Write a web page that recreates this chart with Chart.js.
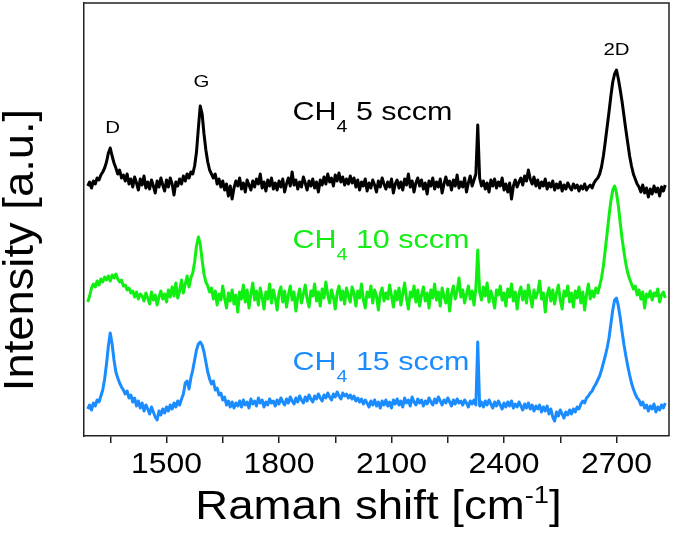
<!DOCTYPE html>
<html>
<head>
<meta charset="utf-8">
<script src="https://cdn.jsdelivr.net/npm/chart.js@4.4.0/dist/chart.umd.min.js"></script>
<style>
  body { margin: 0; background: #fff; }
  #wrap { width: 675px; height: 536px; }
</style>
</head>
<body>
<div id="wrap"><canvas id="myChart"></canvas></div>
<script>
// Raman shift grid, 5 cm-1 per point, 1290..2830
const shift = [];
for (let s = 1290; s <= 2830; s += 5) shift.push(s);

// intensities (arb. units, offset stacks as in the figure)
const ch4_5 = [
  250,254,248,255,252,258,256,261,264,268,274,283,288,280,273,268,262,266,258,261,
  255,262,252,257,249,259,253,246,257,251,260,248,254,247,256,250,243,255,249,258,
  251,245,256,249,258,252,241,254,250,257,252,260,255,262,258,264,262,270,284,308,
  330,322,302,286,274,266,262,258,262,252,257,249,255,246,252,240,250,237,248,255,
  250,258,247,253,244,256,251,246,255,249,257,252,262,248,254,245,256,250,258,247,
  253,246,255,249,257,244,252,258,250,264,251,256,247,254,249,259,253,246,255,250,
  257,248,254,244,256,251,259,252,262,254,258,250,261,255,263,254,259,251,257,252,
  260,253,258,249,256,246,254,250,257,245,253,248,256,251,244,255,249,258,252,247,
  254,249,257,243,252,256,248,254,246,257,251,262,249,255,244,253,258,250,256,247,
  253,242,255,250,258,247,254,249,257,243,252,259,251,255,246,256,250,261,248,254,
  249,258,244,253,260,250,256,262,311,258,250,255,247,253,244,256,250,257,248,254,
  250,258,246,252,244,253,237,250,256,249,254,258,251,260,255,266,257,252,259,250,
  256,248,254,250,257,247,253,249,255,246,252,248,254,245,251,247,253,249,246,252,
  248,251,245,250,247,252,246,249,251,248,253,256,258,262,269,280,294,309,324,340,
  354,362,366,357,346,334,320,306,293,280,270,262,257,252,249,244,251,243,248,239,
  247,242,250,244,248,240,249,245,251
];
const ch4_10 = [
  134,140,148,152,149,155,151,157,154,159,156,160,155,161,158,162,157,154,156,150,
  151,146,148,143,145,139,144,137,142,140,135,143,138,132,144,136,141,131,139,145,
  137,142,134,146,139,149,140,153,138,145,156,143,152,160,149,158,163,174,190,199,
  192,176,162,154,150,144,148,137,145,131,142,136,150,138,128,143,135,146,132,141,
  124,144,137,151,134,146,128,142,153,136,145,131,148,139,127,144,137,152,133,146,
  138,126,143,149,134,145,129,141,150,136,144,125,139,147,133,142,151,137,129,145,
  140,152,135,144,130,147,138,154,141,133,146,139,127,143,150,136,145,132,148,140,
  134,149,143,130,145,138,152,136,128,144,139,150,133,146,140,126,142,148,135,143,
  137,151,140,129,145,136,148,131,142,153,138,127,144,139,150,134,146,130,141,149,
  135,143,128,146,138,152,136,144,130,148,140,133,147,125,142,150,137,145,158,139,
  146,133,142,150,137,145,131,148,186,144,136,149,140,153,134,145,138,128,146,141,
  150,136,143,130,147,139,152,135,144,127,142,149,136,145,133,151,140,129,146,138,
  144,155,137,143,124,141,148,135,146,132,143,151,136,127,145,140,150,134,143,129,
  145,138,149,133,144,126,141,152,137,145,139,148,143,150,158,170,186,203,220,235,
  246,250,243,230,213,197,184,172,163,157,152,147,150,141,146,137,144,128,142,139,
  145,136,143,140,147,134,141,144,138
];
const ch4_15 = [
  27,31,26,33,30,36,34,40,46,57,72,90,103,92,76,64,58,53,49,46,
  42,45,38,41,34,38,30,35,28,33,25,31,27,22,29,24,19,16,25,21,
  27,23,29,25,31,27,33,29,35,31,37,42,53,55,47,58,66,76,86,92,
  94,91,84,74,64,57,52,55,46,48,41,43,36,39,31,35,29,34,28,33,
  30,35,29,36,31,34,28,37,32,35,30,38,33,36,29,34,31,37,33,35,
  30,36,32,38,34,31,37,33,39,35,32,38,34,40,36,33,39,35,41,37,
  34,40,37,42,38,35,41,38,43,39,36,42,39,44,40,37,43,40,42,38,
  41,37,40,35,38,34,37,32,36,33,29,35,31,36,30,34,28,35,31,36,
  30,34,28,36,32,37,31,35,29,38,33,36,30,39,34,31,37,33,36,30,
  35,32,38,34,31,37,33,39,35,31,36,33,38,34,30,36,32,37,33,35,
  31,36,33,29,35,32,36,31,94,30,34,29,35,31,36,32,28,34,30,35,
  31,27,33,29,34,30,35,28,32,29,34,30,26,32,28,33,27,31,25,30,
  27,31,24,29,25,30,22,27,19,15,24,20,26,22,18,24,21,26,22,27,
  24,29,27,32,35,33,38,40,43,45,49,52,56,60,66,73,80,88,98,112,
  126,136,138,130,118,104,91,80,70,61,53,47,42,38,36,31,34,28,31,25,
  30,27,32,24,29,26,31,28,33
];

const xMin = 1280, xMax = 2840;
const majorTicks = [1500, 1800, 2100, 2400, 2700];
const minorTicks = [1350, 1650, 1950, 2250, 2550];

const peakLabels = [
  { text: 'D', x: 1356, y: 303 },
  { text: 'G', x: 1593, y: 349 },
  { text: '2D', x: 2700, y: 381 }
];
const sampleLabels = [
  { rest: ' 5 sccm', x: 1836, y: 316, color: '#000000' },
  { rest: ' 10 sccm', x: 1836, y: 188, color: '#11ee11' },
  { rest: ' 15 sccm', x: 1836, y: 66, color: '#1a8cff' }
];

const FONT = "'Liberation Sans', Arial, sans-serif";

function stretchText(ctx, text, x, y, size, sx, align) {
  ctx.save();
  ctx.font = size + 'px ' + FONT;
  const w = ctx.measureText(text).width * sx;
  let x0 = x;
  if (align === 'center') x0 = x - w / 2;
  ctx.translate(x0, y);
  ctx.scale(sx, 1);
  ctx.textAlign = 'left';
  ctx.textBaseline = 'alphabetic';
  ctx.fillText(text, 0, 0);
  ctx.restore();
  return w;
}

const decorPlugin = {
  id: 'decor',
  afterDraw(chart) {
    const ctx = chart.ctx;
    const a = chart.chartArea;
    const xs = chart.scales.x, ys = chart.scales.y;

    // top and right frame
    ctx.save();
    ctx.strokeStyle = '#222';
    ctx.lineWidth = 1.5;
    ctx.beginPath();
    ctx.moveTo(a.left, a.top);
    ctx.lineTo(a.right, a.top);
    ctx.lineTo(a.right, a.bottom);
    ctx.stroke();
    ctx.restore();

    ctx.fillStyle = '#000';
    // tick labels
    majorTicks.forEach(v => {
      stretchText(ctx, String(v), xs.getPixelForValue(v), a.bottom + 37, 29, 1.1, 'center');
    });

    // x title with superscript
    const base = a.bottom + 83;
    ctx.save();
    ctx.font = '40px ' + FONT;
    const w1 = ctx.measureText('Raman shift [cm').width * 1.14;
    ctx.font = '24px ' + FONT;
    const w2 = ctx.measureText('-1').width * 1.14;
    ctx.font = '40px ' + FONT;
    const w3 = ctx.measureText(']').width * 1.14;
    ctx.restore();
    let tx = (a.left + a.right) / 2 + 2 - (w1 + w2 + w3) / 2;
    tx += stretchText(ctx, 'Raman shift [cm', tx, base, 40, 1.14, 'left');
    tx += stretchText(ctx, '-1', tx, base - 16, 24, 1.14, 'left');
    stretchText(ctx, ']', tx, base, 40, 1.14, 'left');

    // y title, rotated
    ctx.save();
    ctx.translate(33, a.top + 247);
    ctx.rotate(-Math.PI / 2);
    stretchText(ctx, 'Intensity [a.u.]', 0, 0, 42, 1.08, 'center');
    ctx.restore();

    // peak labels
    peakLabels.forEach(p => {
      stretchText(ctx, p.text, xs.getPixelForValue(p.x), ys.getPixelForValue(p.y), 17, 1.2, 'center');
    });

    // sample labels CH4 x sccm
    sampleLabels.forEach(s => {
      ctx.fillStyle = s.color;
      let px = xs.getPixelForValue(s.x);
      const py = ys.getPixelForValue(s.y);
      px += stretchText(ctx, 'CH', px, py, 25, 1.22, 'left');
      px += stretchText(ctx, '4', px, py + 12, 16, 1.22, 'left');
      stretchText(ctx, s.rest, px, py, 25, 1.22, 'left');
    });
  }
};

function series(values) {
  return shift.map((s, i) => ({ x: s, y: values[i] }));
}

const ctx = document.getElementById('myChart').getContext('2d');
const myChart = new Chart(ctx, {
  type: 'line',
  data: {
    datasets: [
      { label: 'CH4 5 sccm', data: series(ch4_5), borderColor: '#000000' },
      { label: 'CH4 10 sccm', data: series(ch4_10), borderColor: '#11ee11' },
      { label: 'CH4 15 sccm', data: series(ch4_15), borderColor: '#1a8cff' }
    ]
  },
  options: {
    responsive: true,
    maintainAspectRatio: false,
    animation: false,
    layout: { padding: { top: 3, right: 6, left: 0, bottom: 0 } },
    elements: {
      line: { borderWidth: 3, tension: 0, borderJoinStyle: 'round' },
      point: { radius: 0 }
    },
    plugins: { legend: { display: false }, tooltip: { enabled: false } },
    scales: {
      x: {
        type: 'linear',
        min: xMin,
        max: xMax,
        afterBuildTicks: scale => {
          scale.ticks = majorTicks.concat(minorTicks).sort((p, q) => p - q).map(v => ({ value: v }));
        },
        afterFit: scale => { scale.height = 100; },
        ticks: { display: false },
        grid: { display: true, drawOnChartArea: false, drawTicks: true, tickLength: 7, color: '#222', lineWidth: 1.5 },
        border: { display: true, color: '#222', width: 1.5 }
      },
      y: {
        min: 0,
        max: 433,
        afterFit: scale => { scale.width = 84; },
        ticks: { display: false },
        grid: { display: false },
        border: { display: true, color: '#222', width: 1.5 }
      }
    }
  },
  plugins: [decorPlugin]
});
</script>
</body>
</html>
